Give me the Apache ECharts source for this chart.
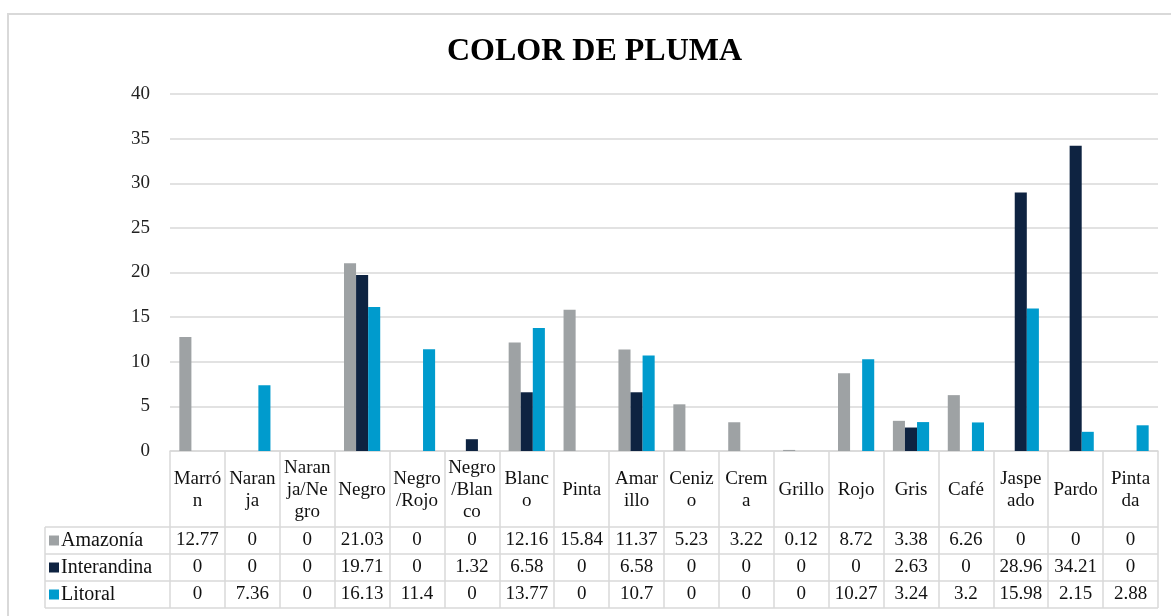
<!DOCTYPE html>
<html>
<head>
<meta charset="utf-8">
<script src="https://cdn.jsdelivr.net/npm/echarts@6/dist/echarts.min.js"></script>
<style>
html,body{margin:0;padding:0;background:#fff;}
#chart{width:1171px;height:616px;}
</style>
</head>
<body>
<div id="chart"></div>
<script>
// ---- data ----
const categories = ["Marró\nn","Naran\nja","Naran\nja/Ne\ngro","Negro","Negro\n/Rojo","Negro\n/Blan\nco","Blanc\no","Pinta","Amar\nillo","Ceniz\no","Crem\na","Grillo","Rojo","Gris","Café","Jaspe\nado","Pardo","Pinta\nda"];
const seriesNames = ["Amazonía","Interandina","Litoral"];
const amazonia    = [12.77,0,0,21.03,0,0,12.16,15.84,11.37,5.23,3.22,0.12,8.72,3.38,6.26,0,0,0];
const interandina = [0,0,0,19.71,0,1.32,6.58,0,6.58,0,0,0,0,2.63,0,28.96,34.21,0];
const litoral     = [0,7.36,0,16.13,11.4,0,13.77,0,10.7,0,0,0,10.27,3.24,3.2,15.98,2.15,2.88];
const yTicks = [0,5,10,15,20,25,30,35,40];

const colors = ["#9EA2A4","#0E2341","#009BCD"];
const FONT = "Liberation Serif";
const FS = 19;
const gridLeft = 170, gridRight = 1158, axisY = 451;
const rowTops = [527,554,581,608];
const rowCenters = [540.5,567.5,594.5];

const chart = echarts.init(document.getElementById('chart'));
const allSeries = [amazonia, interandina, litoral];

const xAxes = [{
  type:'category', data:categories, gridIndex:0, position:'bottom',
  axisLine:{show:true, lineStyle:{color:'#D9D9D9', width:1.5}},
  axisTick:{show:true, length:rowTops[3]-axisY, interval:0, lineStyle:{color:'#D9D9D9', width:1.5}},
  axisLabel:{interval:0, margin:39, verticalAlign:'middle', fontFamily:FONT, fontSize:FS, lineHeight:22, color:'#111'}
}];
allSeries.forEach((arr,i)=>{
  xAxes.push({
    type:'category', data:arr.map(v=>String(v)), gridIndex:0, position:'bottom',
    axisLine:{show:false}, axisTick:{show:false},
    axisLabel:{interval:0, margin:rowCenters[i]-axisY, verticalAlign:'middle', fontFamily:FONT, fontSize:FS, color:'#111'}
  });
});

const graphics = [
  {type:'rect', shape:{x:8,y:14,width:1300,height:800}, style:{fill:'none', stroke:'#D9D9D9', lineWidth:2}, silent:true}
];
rowTops.forEach(y=>{
  graphics.push({type:'line', shape:{x1:45,y1:y,x2:gridRight,y2:y}, style:{stroke:'#D9D9D9', lineWidth:1.5}, silent:true});
});
graphics.push({type:'line', shape:{x1:45,y1:rowTops[0],x2:45,y2:rowTops[3]}, style:{stroke:'#D9D9D9', lineWidth:1.5}, silent:true});

const option = {
  animation:false,
  backgroundColor:'#fff',
  title:{text:'COLOR DE PLUMA', left:447, top:36, padding:0,
    textStyle:{fontFamily:FONT, fontSize:32, fontWeight:'bold', color:'#000'}},
  legend:{orient:'vertical', left:49, top:rowTops[0], padding:0, itemGap:0, itemWidth:10, itemHeight:10, icon:'rect',
    data:seriesNames, textStyle:{fontFamily:FONT, fontSize:20, color:'#111', lineHeight:27, padding:[0,0,0,-3]}},
  grid:{left:gridLeft, right:1171-gridRight, top:94, bottom:616-axisY, containLabel:false},
  xAxis:xAxes,
  yAxis:{type:'value', min:yTicks[0], max:yTicks[yTicks.length-1], interval:5,
    axisLine:{show:false}, axisTick:{show:false},
    splitLine:{lineStyle:{color:'#D9D9D9', width:1.5}},
    axisLabel:{margin:20, fontFamily:FONT, fontSize:FS, color:'#222'}},
  series: allSeries.map((arr,i)=>({
    name:seriesNames[i], type:'bar', data:arr, xAxisIndex:0,
    barGap:'0%', barCategoryGap:'34%',
    itemStyle:{color:colors[i]}
  })),
  graphic:graphics
};
chart.setOption(option);
</script>
</body>
</html>
